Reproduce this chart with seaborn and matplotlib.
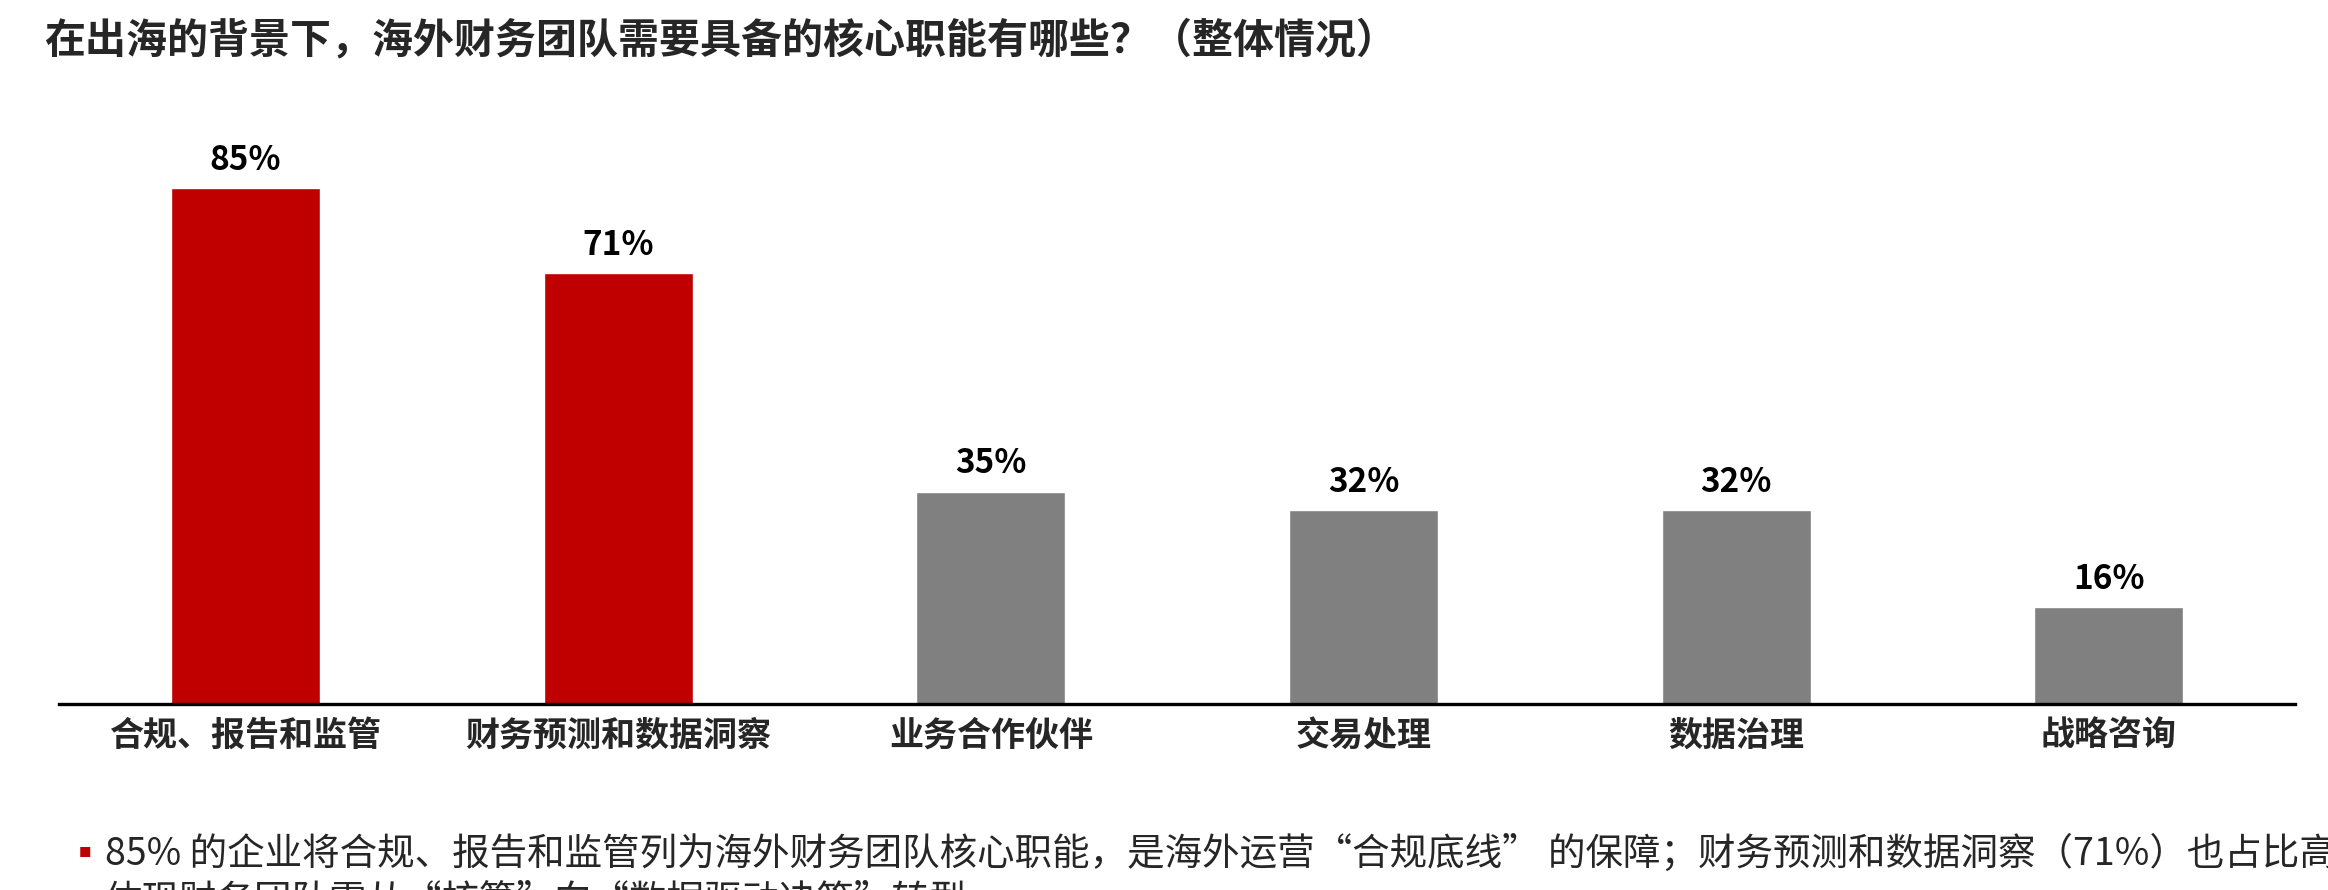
import matplotlib
matplotlib.use("Agg")
import matplotlib.pyplot as plt
import seaborn as sns

categories = ["合规、报告和监管", "财务预测和数据洞察", "业务合作伙伴", "交易处理", "数据治理", "战略咨询"]
values = [85, 71, 35, 32, 32, 16]
bar_colors = ["#C00000", "#C00000", "#808080", "#808080", "#808080", "#808080"]

title = "在出海的背景下，海外财务团队需要具备的核心职能有哪些？（整体情况）"
note_line1 = "85% 的企业将合规、报告和监管列为海外财务团队核心职能，是海外运营“合规底线” 的保障；财务预测和数据洞察（71%）也占比高，"
note_line2 = "体现财务团队需从“核算”向“数据驱动决策”转型。"

sns.set_theme(style="white")
plt.rcParams['font.family'] = ['Noto Sans CJK SC', 'DejaVu Sans']

fig = plt.figure(figsize=(23.28, 8.9), dpi=100)
ax = fig.add_axes([0.0254, 0.209, 0.9605, 0.682])

sns.barplot(x=categories, y=values, hue=categories, palette=bar_colors,
            width=0.4, legend=False, saturation=1, ax=ax)

for i, v in enumerate(values):
    ax.annotate(f"{v}%", (i, v), xytext=(0, 8), textcoords="offset points",
                ha="center", va="bottom", fontsize=24, fontweight="bold", color="black")

ax.set_xlim(-0.5, 5.5)
ax.set_ylim(0, 100)
ax.set_yticks([])
ax.set_xlabel("")
ax.set_ylabel("")
ax.tick_params(axis="x", length=0, pad=10, labelsize=24.5)
for lbl in ax.get_xticklabels():
    lbl.set_fontweight("bold")
for s in ["top", "right", "left"]:
    ax.spines[s].set_visible(False)
ax.spines["bottom"].set_color("black")
ax.spines["bottom"].set_linewidth(2.4)

fig.text(0.019, 0.955, title, fontsize=29.5, fontweight="bold", ha="left", va="center")

# 底部说明文字（原图第二行被裁切）
fig.text(0.0365, 0.041, "■", fontsize=9, color="#C00000", ha="center", va="center")
fig.text(0.045, 0.040, note_line1, fontsize=27, ha="left", va="center")
fig.text(0.045, -0.012, note_line2, fontsize=27, ha="left", va="center")

fig.savefig("out.png", dpi=100)
